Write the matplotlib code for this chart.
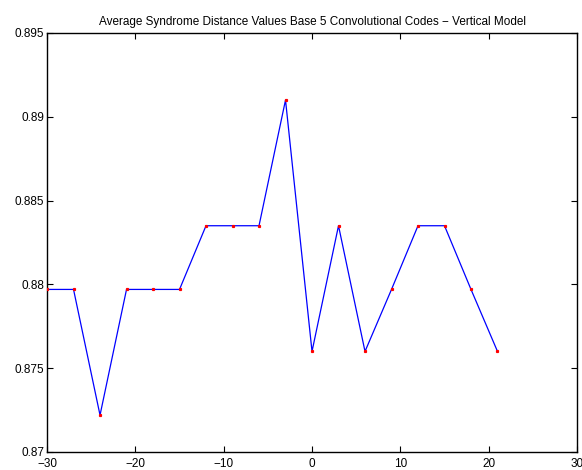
import matplotlib
matplotlib.use("Agg")
from matplotlib import pyplot as plt

# shift values and average syndrome distance
shifts = [-30, -27, -24, -21, -18, -15, -12, -9, -6, -3, 0, 3, 6, 9, 12, 15, 18, 21]
avgDistance = [0.8797, 0.8797, 0.8722, 0.8797, 0.8797, 0.8797, 0.8835, 0.8835, 0.8835,
               0.8910, 0.8760, 0.8835, 0.8760, 0.8797, 0.8835, 0.8835, 0.8797, 0.8760]
xTicks = [-30, -20, -10, 0, 10, 20, 30]
yTicks = [0.87, 0.875, 0.88, 0.885, 0.89, 0.895]
yTickLabels = ["0.87", "0.875", "0.88", "0.885", "0.89", "0.895"]

plt.rcParams['font.family'] = ['Liberation Sans', 'DejaVu Sans']
plt.rcParams['font.size'] = 8.5

fig = plt.figure(figsize=(5.82, 4.70), dpi=100)
ax = fig.add_axes([0.0808, 0.0383, 0.9106, 0.8915])

ax.plot(shifts, avgDistance, color="blue", linewidth=0.9, zorder=2)
ax.plot(shifts, avgDistance, linestyle="none", marker="s", markersize=1.3,
        markerfacecolor="red", markeredgecolor="red", zorder=3)

ax.set_xlim(-30, 30)
ax.set_ylim(0.87, 0.895)
ax.set_xticks(xTicks)
ax.set_xticklabels([str(t).replace("-", "\u2212") for t in xTicks])
ax.set_yticks(yTicks)
ax.set_yticklabels(yTickLabels)
ax.tick_params(direction="in", top=True, right=True, length=4, width=0.8)
ax.tick_params(axis="x", pad=4.5)
ax.tick_params(axis="y", pad=2)
for spine in ax.spines.values():
    spine.set_linewidth(1.0)

ax.set_title("Average Syndrome Distance Values Base 5 Convolutional Codes \u2212 Vertical Model",
             fontsize=8.5, pad=6)

fig.savefig("out.png", dpi=100)
